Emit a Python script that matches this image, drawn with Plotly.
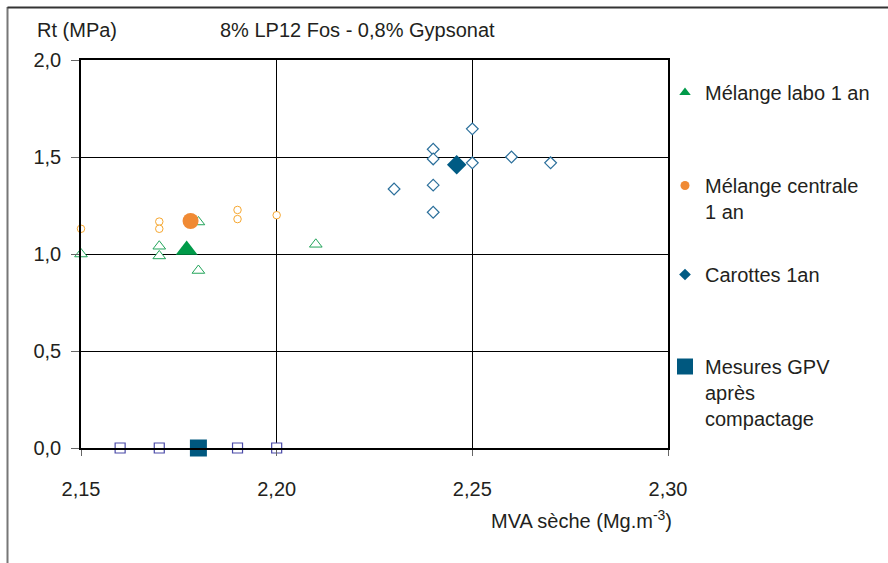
import plotly.graph_objects as go

# ---- data ----
labo_x = [2.15, 2.17, 2.17, 2.18, 2.18, 2.21]
labo_y = [1.00, 1.04, 0.99, 1.165, 0.915, 1.05]
labo_mean_x = [2.177]
labo_mean_y = [1.02]

centrale_x = [2.15, 2.17, 2.17, 2.19, 2.19, 2.20]
centrale_y = [1.13, 1.167, 1.13, 1.227, 1.18, 1.20]
centrale_mean_x = [2.178]
centrale_mean_y = [1.17]

carottes_x = [2.23, 2.24, 2.24, 2.24, 2.24, 2.25, 2.25, 2.26, 2.27]
carottes_y = [1.335, 1.54, 1.49, 1.355, 1.215, 1.645, 1.47, 1.50, 1.47]
carottes_mean_x = [2.246]
carottes_mean_y = [1.46]

gpv_x = [2.16, 2.17, 2.19, 2.20]
gpv_y = [0.0, 0.0, 0.0, 0.0]
gpv_mean_x = [2.18]
gpv_mean_y = [0.0]

x_ticks = [2.15, 2.20, 2.25, 2.30]
y_ticks = [0.0, 0.5, 1.0, 1.5, 2.0]

legend_names = ["Mélange labo 1 an", "Mélange centrale<br>1 an", "Carottes 1an",
                "Mesures GPV<br>après<br>compactage"]

FONT = "Liberation Sans, Arial, Helvetica, sans-serif"
TXT = "#231f20"

W, H = 888, 563
L, R, T, B = 81, 220, 60, 115
PW, PH = W - L - R, H - T - B


def px(xp):
    return (xp - L) / PW


def py(yp):
    return (H - B - yp) / PH


fig = go.Figure()

# open markers
fig.add_trace(go.Scatter(x=labo_x, y=labo_y, mode="markers", showlegend=False, cliponaxis=False,
                         marker=dict(symbol="triangle-up", size=11, color="white",
                                     line=dict(color="#22a45a", width=1))))
fig.add_trace(go.Scatter(x=centrale_x, y=centrale_y, mode="markers", showlegend=False, cliponaxis=False,
                         marker=dict(symbol="circle", size=7.5, color="white",
                                     line=dict(color="#f6a730", width=1))))
fig.add_trace(go.Scatter(x=carottes_x, y=carottes_y, mode="markers", showlegend=False, cliponaxis=False,
                         marker=dict(symbol="diamond", size=9, color="white",
                                     line=dict(color="#2b6f9b", width=1.2))))
fig.add_trace(go.Scatter(x=gpv_x, y=gpv_y, mode="markers", showlegend=False, cliponaxis=False,
                         marker=dict(symbol="square", size=10, color="white",
                                     line=dict(color="#4a4aa8", width=1.2))))
# mean markers
fig.add_trace(go.Scatter(x=labo_mean_x, y=labo_mean_y, mode="markers", showlegend=False, cliponaxis=False,
                         marker=dict(symbol="triangle-up", size=19, color="#009a49")))
fig.add_trace(go.Scatter(x=centrale_mean_x, y=centrale_mean_y, mode="markers", showlegend=False, cliponaxis=False,
                         marker=dict(symbol="circle", size=16, color="#f08a34")))
fig.add_trace(go.Scatter(x=carottes_mean_x, y=carottes_mean_y, mode="markers", showlegend=False, cliponaxis=False,
                         marker=dict(symbol="diamond", size=15, color="#005b84")))
fig.add_trace(go.Scatter(x=gpv_mean_x, y=gpv_mean_y, mode="markers", showlegend=False, cliponaxis=False,
                         marker=dict(symbol="square", size=17, color="#00587f")))

# legend entries (one legend each for free placement)
leg_specs = [("triangle-up", 10, "#009a49", "legend"),
             ("circle", 9, "#f08a34", "legend2"),
             ("diamond", 9, "#005b84", "legend3"),
             ("square", 16, "#00587f", "legend4")]
for name, (sym, sz, col, lg) in zip(legend_names, leg_specs):
    fig.add_trace(go.Scatter(x=[None], y=[None], mode="markers", name=name, legend=lg,
                             marker=dict(symbol=sym, size=sz, color=col)))

leg_tops = [73, 166, 255, 347]
leg_common = dict(xanchor="left", yanchor="top", bgcolor="rgba(0,0,0,0)", borderwidth=0,
                  font=dict(family=FONT, size=20, color=TXT), valign="top",
                  itemclick=False, itemdoubleclick=False)
legends = {}
for i, top in enumerate(leg_tops):
    key = "legend" if i == 0 else f"legend{i+1}"
    legends[key] = dict(x=px(665), y=py(top), **leg_common)

fig.update_layout(**legends)

fig.update_layout(
    width=W, height=H,
    margin=dict(l=L, r=R, t=T, b=B),
    paper_bgcolor="white", plot_bgcolor="white",
    separators=", ",
    font=dict(family=FONT, size=20, color=TXT),
    xaxis=dict(range=[2.15, 2.30], tickvals=x_ticks, tickformat=".2f",
               showgrid=True, gridcolor="#000000", gridwidth=1,
               showline=True, linecolor="#000000", linewidth=1.5, mirror=True,
               ticks="outside", ticklen=6, tickcolor="#666666", tickwidth=1,
               ticklabelstandoff=16, zeroline=False,
               tickfont=dict(family=FONT, size=20, color=TXT)),
    yaxis=dict(range=[0, 2.0], tickvals=y_ticks, tickformat=".1f",
               showgrid=True, gridcolor="#000000", gridwidth=1,
               showline=True, linecolor="#000000", linewidth=1.5, mirror=True,
               ticks="outside", ticklen=8, tickcolor="#666666", tickwidth=1,
               ticklabelstandoff=6, zeroline=False,
               tickfont=dict(family=FONT, size=20, color=TXT)),
    showlegend=True,
)

# outer frame (only left and top edges visible)
fig.add_shape(type="line", xref="paper", yref="paper", x0=px(7.5), x1=px(7.5), y0=py(7), y1=py(620),
              line=dict(color="#777777", width=2))
fig.add_shape(type="line", xref="paper", yref="paper", x0=px(7.5), x1=px(950), y0=py(7.5), y1=py(7.5),
              line=dict(color="#333333", width=2))

ann = dict(xref="paper", yref="paper", showarrow=False, font=dict(family=FONT, size=20, color=TXT))
fig.add_annotation(text="Rt (MPa)", x=px(35), y=py(30), xanchor="left", yanchor="middle", **ann)
fig.add_annotation(text="8% LP12 Fos - 0,8% Gypsonat", x=px(218), y=py(30), xanchor="left",
                   yanchor="middle", **ann)
fig.add_annotation(text="MVA sèche (Mg.m<sup>-3</sup>)", x=px(489), y=py(519), xanchor="left",
                   yanchor="middle", **ann)

fig.write_html("out.html")
